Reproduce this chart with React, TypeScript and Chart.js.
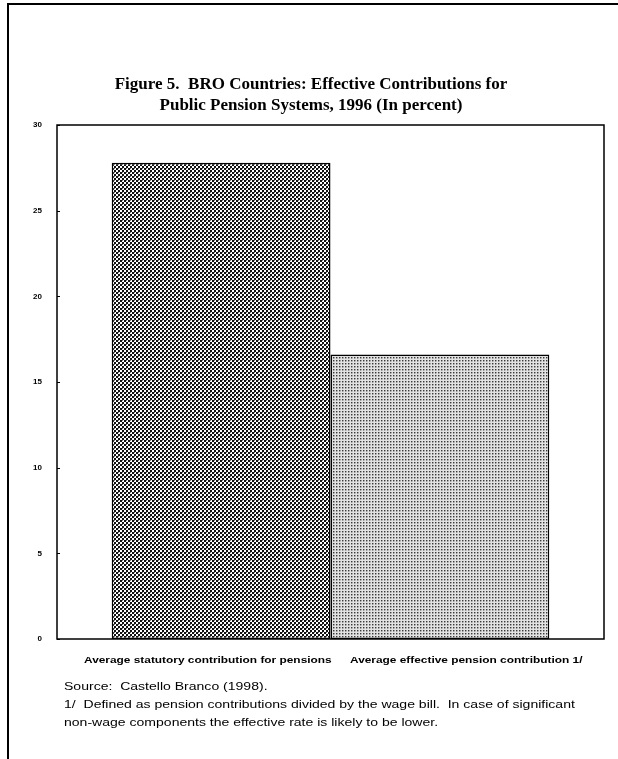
import React, { useEffect, useRef } from 'react';
import { Chart, registerables } from 'chart.js';

Chart.register(...registerables);

const categories = [
  'Average statutory contribution for pensions',
  'Average effective pension contribution 1/',
];
const values = [27.8, 16.6];
const yMin = 0;
const yMax = 30;
const yStep = 5;
const titleLines = [
  'Figure 5.  BRO Countries: Effective Contributions for',
  'Public Pension Systems, 1996 (In percent)',
];
const notes = [
  'Source:  Castello Branco (1998).',
  '1/  Defined as pension contributions divided by the wage bill.  In case of significant',
  'non-wage components the effective rate is likely to be lower.',
];

function makePattern(kind: number): CanvasPattern | string {
  const c = document.createElement('canvas');
  const ctx = c.getContext('2d');
  if (!ctx) return '#888';
  if (kind === 0) {
    c.width = 4;
    c.height = 4;
    ctx.fillStyle = '#ffffff';
    ctx.fillRect(0, 0, 4, 4);
    ctx.fillStyle = '#111111';
    ctx.fillRect(0, 0, 2, 2);
    ctx.fillRect(2, 2, 2, 2);
    ctx.fillStyle = '#777777';
    ctx.fillRect(2, 0, 1, 1);
  } else {
    c.width = 3;
    c.height = 3;
    ctx.fillStyle = '#e2e2e2';
    ctx.fillRect(0, 0, 3, 3);
    ctx.fillStyle = '#3a3a3a';
    ctx.fillRect(0, 0, 1, 1);
    ctx.fillStyle = '#9a9a9a';
    ctx.fillRect(1, 0, 1, 1);
    ctx.fillRect(0, 1, 1, 1);
    ctx.fillStyle = '#c4c4c4';
    ctx.fillRect(1, 1, 1, 1);
  }
  const p = ctx.createPattern(c, 'repeat');
  return p || '#888';
}

const framePlugin = {
  id: 'frame',
  afterDraw(chart: any) {
    const { ctx, chartArea } = chart;
    const y = chart.scales.y;
    ctx.save();
    ctx.strokeStyle = '#000';
    ctx.lineWidth = 1.5;
    ctx.strokeRect(chartArea.left, chartArea.top, chartArea.right - chartArea.left, chartArea.bottom - chartArea.top);
    ctx.lineWidth = 1;
    for (let v = yMin; v <= yMax; v += yStep) {
      const py = Math.round(y.getPixelForValue(v)) + 0.5;
      ctx.beginPath();
      ctx.moveTo(chartArea.left, py);
      ctx.lineTo(chartArea.left + 3, py);
      ctx.stroke();
    }
    ctx.restore();
  },
};

export default function App() {
  const ref = useRef<HTMLCanvasElement | null>(null);

  useEffect(() => {
    document.body.style.margin = '0';
    if (!ref.current) return;
    const chart = new Chart(ref.current, {
      type: 'bar',
      data: {
        labels: [''],
        datasets: categories.map((name, i) => ({
          label: name,
          data: [values[i]],
          backgroundColor: makePattern(i) as any,
          borderColor: '#000',
          borderWidth: 1.5,
          borderSkipped: false,
          categoryPercentage: 0.8,
          barPercentage: 1.0,
        })),
      },
      options: {
        responsive: false,
        animation: false,
        layout: { padding: { left: 0, top: 125, right: 14, bottom: 120 } },
        plugins: {
          legend: { display: false },
          tooltip: { enabled: false },
          title: { display: false },
        },
        scales: {
          x: { display: false },
          y: {
            min: yMin,
            max: yMax,
            grid: { display: false },
            border: { display: false },
            ticks: {
              stepSize: yStep,
              color: '#000',
              padding: 7,
              font: { family: 'Liberation Sans, Arial, sans-serif', size: 8, weight: 'bold' },
            },
            afterFit: (s: any) => {
              s.width = 57;
            },
          },
        },
      },
      plugins: [framePlugin],
    } as any);
    return () => chart.destroy();
  }, []);

  const sans = 'Liberation Sans, Arial, sans-serif';
  return (
    <div style={{ position: 'relative', width: 618, height: 759, background: '#fff', overflow: 'hidden' }}>
      <canvas ref={ref} width={618} height={759} style={{ position: 'absolute', left: 0, top: 0 }} />
      <div style={{ position: 'absolute', left: 7, top: 3, width: 611, height: 2, background: '#000' }} />
      <div style={{ position: 'absolute', left: 7, top: 3, width: 2, height: 756, background: '#000' }} />
      {titleLines.map((t, i) => (
        <div
          key={t}
          style={{
            position: 'absolute',
            left: 0,
            width: 622,
            top: 74 + i * 21,
            textAlign: 'center',
            fontFamily: 'Liberation Serif, Times New Roman, serif',
            fontWeight: 'bold',
            fontSize: 17,
            lineHeight: '20px',
            whiteSpace: 'pre',
          }}
        >
          {t}
        </div>
      ))}
      {categories.map((c, i) => (
        <div
          key={c}
          style={{
            position: 'absolute',
            left: [84, 350][i],
            top: 653,
            fontFamily: sans,
            fontWeight: 'bold',
            fontSize: 9.5,
            lineHeight: '14px',
            whiteSpace: 'pre',
            transform: 'scaleX(1.25)',
            transformOrigin: 'left center',
          }}
        >
          {c}
        </div>
      ))}
      {notes.map((n, i) => (
        <div
          key={n}
          style={{
            position: 'absolute',
            left: 64,
            top: 678 + i * 18,
            fontFamily: sans,
            fontSize: 11.5,
            lineHeight: '16px',
            whiteSpace: 'pre',
            transform: 'scaleX(1.22)',
            transformOrigin: 'left center',
          }}
        >
          {n}
        </div>
      ))}
    </div>
  );
}
